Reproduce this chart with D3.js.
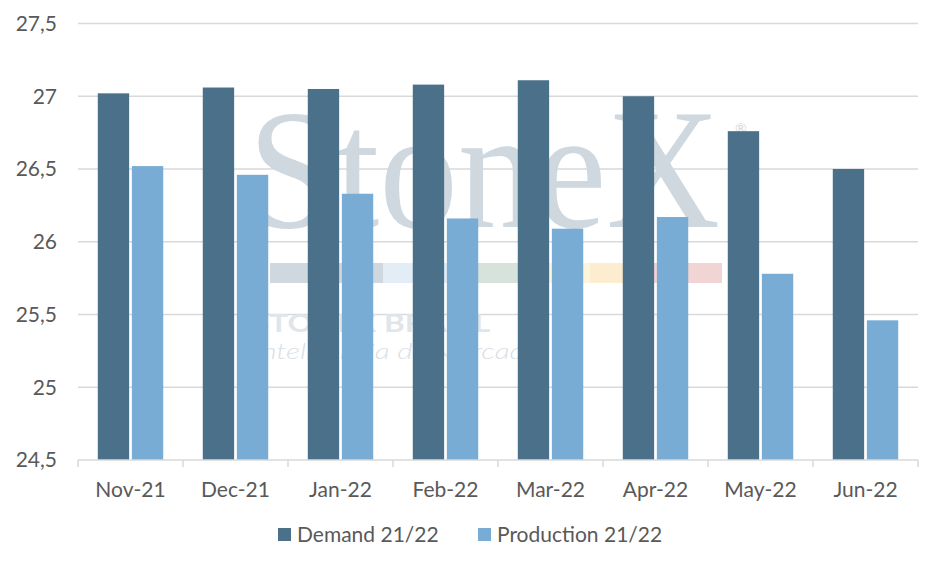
<!DOCTYPE html>
<html>
<head>
<meta charset="utf-8">
<script src="https://cdn.jsdelivr.net/npm/d3@7"></script>
<style>
  body { margin: 0; background: #fff; }
  text { font-family: Lato, "Noto Sans", sans-serif; }
</style>
</head>
<body>
<div id="chart"></div>
<script>
// chart values
const months = ["Nov-21", "Dec-21", "Jan-22", "Feb-22", "Mar-22", "Apr-22", "May-22", "Jun-22"];
const demand = [27.02, 27.06, 27.05, 27.08, 27.11, 27.00, 26.76, 26.50];
const production = [26.52, 26.46, 26.33, 26.16, 26.09, 26.17, 25.78, 25.46];
const seriesNames = ["Demand 21/22", "Production 21/22"];
const yTicks = [24.5, 25, 25.5, 26, 26.5, 27, 27.5];

const width = 940, height = 566;
const margin = { top: 23.5, right: 22, bottom: 106, left: 78 };
const colors = ["#4a7189", "#79acd5"];

const svg = d3.select("#chart")
    .append("svg")
    .attr("width", width)
    .attr("height", height);

const x = d3.scaleBand()
    .domain(months)
    .range([margin.left, width - margin.right]);

const x1 = d3.scaleBand()
    .domain(seriesNames)
    .range([0, x.bandwidth()])
    .paddingInner(0.08)
    .paddingOuter(0.58);

const y = d3.scaleLinear()
    .domain([24.5, 27.5])
    .range([height - margin.bottom, margin.top]);

const fmt = v => String(v).replace(".", ",");

// gridlines
svg.append("g")
    .selectAll("line")
    .data(yTicks.slice(1))
    .join("line")
    .attr("x1", margin.left)
    .attr("x2", width - margin.right)
    .attr("y1", d => y(d))
    .attr("y2", d => y(d))
    .attr("stroke", "#d9d9d9")
    .attr("stroke-width", 1.5);

// faint watermark behind the bars
const wm = svg.append("g").attr("pointer-events", "none");
wm.append("text")
    .attr("x", 248).attr("y", 227)
    .attr("textLength", 472)
    .attr("lengthAdjust", "spacingAndGlyphs")
    .style("font-family", "'Liberation Serif', 'DejaVu Serif', serif")
    .style("font-size", "172px")
    .attr("fill", "#cfd8df")
    .text("StoneX");
wm.append("text")
    .attr("x", 735).attr("y", 133)
    .style("font-size", "14px")
    .attr("fill", "#cfd8df")
    .text("®");
const strip = [
    [270, 383, "#d0d8df"], [383, 477, "#e3edf5"], [477, 545, "#d5e3dc"],
    [545, 590, "#fbf5dc"], [590, 652, "#fcecd0"], [652, 722, "#f1d5d5"]
];
wm.selectAll("rect")
    .data(strip)
    .join("rect")
    .attr("x", d => d[0]).attr("y", 263)
    .attr("width", d => d[1] - d[0]).attr("height", 20)
    .attr("fill", d => d[2]);
wm.append("text")
    .attr("x", 252).attr("y", 332)
    .attr("textLength", 238)
    .attr("lengthAdjust", "spacingAndGlyphs")
    .style("font-size", "24px").style("font-weight", "bold")
    .attr("fill", "#dfe5ea")
    .text("STONEX BRASIL");
wm.append("text")
    .attr("x", 254).attr("y", 359)
    .attr("textLength", 286)
    .attr("lengthAdjust", "spacingAndGlyphs")
    .style("font-size", "22px").style("font-style", "italic").style("font-weight", 300)
    .attr("fill", "#d9e0e7")
    .text("Inteligência de Mercado");

// bars
const rows = months.map((m, i) => ({ month: m, values: [demand[i], production[i]] }));

svg.append("g")
    .selectAll("g")
    .data(rows)
    .join("g")
    .attr("transform", d => `translate(${x(d.month)},0)`)
    .selectAll("rect")
    .data(d => d.values.map((v, j) => ({ key: seriesNames[j], value: v, j })))
    .join("rect")
    .attr("x", d => x1(d.key))
    .attr("width", x1.bandwidth())
    .attr("y", d => y(d.value))
    .attr("height", d => y(24.5) - y(d.value))
    .attr("fill", d => colors[d.j]);

// x axis
const xAxis = svg.append("g")
    .attr("transform", `translate(0,${y(24.5)})`);
xAxis.append("line")
    .attr("x1", margin.left).attr("x2", width - margin.right)
    .attr("stroke", "#d9d9d9").attr("stroke-width", 1.5);
xAxis.selectAll(".tick")
    .data(months.map(m => x(m)).concat([width - margin.right]))
    .join("line")
    .attr("class", "tick")
    .attr("x1", d => d).attr("x2", d => d)
    .attr("y1", 0).attr("y2", 7)
    .attr("stroke", "#d9d9d9").attr("stroke-width", 1.5);
xAxis.selectAll("text")
    .data(months)
    .join("text")
    .attr("x", d => x(d) + x.bandwidth() / 2)
    .attr("y", 37)
    .attr("text-anchor", "middle")
    .style("font-size", "21px")
    .attr("fill", "#595959")
    .text(d => d);

// y axis labels
svg.append("g")
    .selectAll("text")
    .data(yTicks)
    .join("text")
    .attr("x", 57)
    .attr("y", d => y(d))
    .attr("dy", "0.35em")
    .attr("text-anchor", "end")
    .style("font-size", "21px")
    .attr("fill", "#595959")
    .text(fmt);

// legend
const legendX = [278, 478];
const legend = svg.append("g")
    .selectAll("g")
    .data(seriesNames)
    .join("g")
    .attr("transform", (d, i) => `translate(${legendX[i]},528)`);
legend.append("rect")
    .attr("width", 13).attr("height", 13)
    .attr("fill", (d, i) => colors[i]);
legend.append("text")
    .attr("x", 19).attr("y", 14)
    .style("font-size", "21px")
    .attr("fill", "#595959")
    .text(d => d);
</script>
</body>
</html>
